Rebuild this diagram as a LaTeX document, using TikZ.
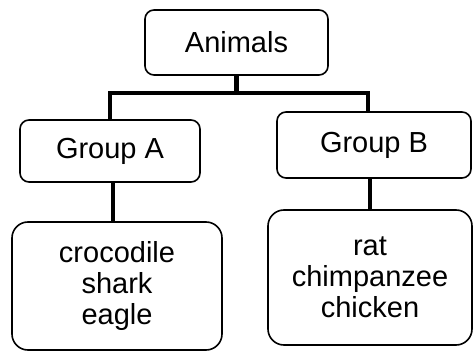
\documentclass[tikz,border=0pt]{standalone}
\usepackage{fontspec}
\setmainfont{Liberation Sans}
\begin{document}
\begin{tikzpicture}[x=1pt,y=-1pt,
  box/.style={draw, line width=1.6pt, rounded corners=9pt, inner sep=0pt, font=\fontsize{29}{31}\selectfont, align=center},
  link/.style={line width=4.5pt}]
\useasboundingbox (0,0) rectangle (474,355);
\node[box, minimum width=183pt, minimum height=65pt] (animals) at (236.5,42.5) {Animals};
\node[box, minimum width=180pt, minimum height=62pt] (ga) at (110,151) {Group A};
\node[box, minimum width=194pt, minimum height=66pt] (gb) at (374,145) {Group B};
\node[box, minimum width=210pt, minimum height=128pt, rounded corners=16pt] (la) at (117,286) {crocodile\\shark\\eagle};
\node[box, minimum width=204pt, minimum height=135pt, rounded corners=16pt] (lb) at (370,277.5) {rat\\chimpanzee\\chicken};
\coordinate (j) at (animals.south |- 0,93);
\draw[link] (animals.south) -- (j);
\draw[link] (ga.north -| 110,0) |- (j) -| (gb.north -| 368,0);
\draw[link] (ga.south -| 113,0) -- (la.north -| 113,0);
\draw[link] (gb.south -| 370,0) -- (lb.north -| 370,0);
\end{tikzpicture}
\end{document}
